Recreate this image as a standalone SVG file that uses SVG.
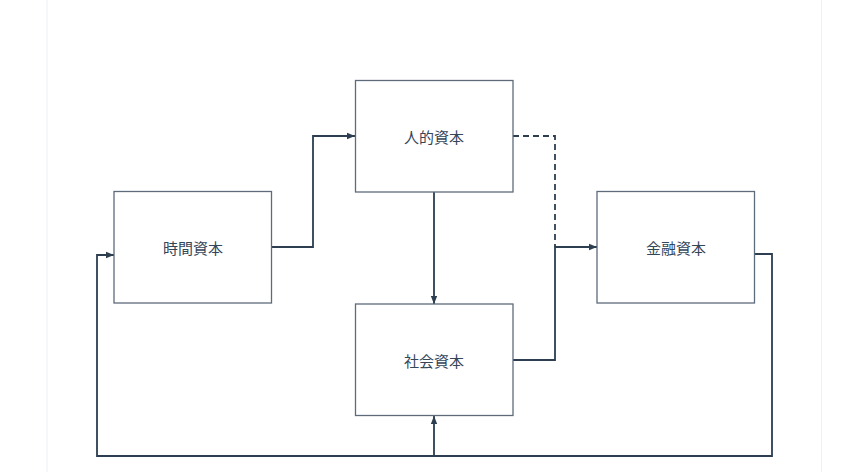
<svg xmlns="http://www.w3.org/2000/svg" width="841" height="472" viewBox="0 0 841 472">
<defs>
<style>
.box{fill:#ffffff;stroke:#5e6b7b;stroke-width:1.3}
.lbl{font-family:"Noto Sans CJK JP","Noto Sans CJK SC",sans-serif;font-size:15px;fill:#34465a;text-anchor:middle;dominant-baseline:central}
.c{fill:none;stroke:#2c3e50;stroke-width:1.8}
.d{stroke-dasharray:6 4}
</style>
<marker id="ah" viewBox="0 0 10 10" refX="10" refY="5" markerWidth="8" markerHeight="8" markerUnits="userSpaceOnUse" orient="auto">
<path d="M0,1 L10,5 L0,9 z" fill="#2c3e50"/>
</marker>
</defs>
<rect x="0" y="0" width="841" height="472" fill="#ffffff"/>
<line x1="47" y1="0" x2="47" y2="472" stroke="#eef0f3" stroke-width="1"/>
<line x1="821.5" y1="0" x2="821.5" y2="472" stroke="#eef0f3" stroke-width="1"/>
<g id="connectors">
<path class="c" d="M272,247 H313 V136 H355" marker-end="url(#ah)"/>
<path class="c" d="M434,192 V304" marker-end="url(#ah)"/>
<path class="c d" d="M513,136 H555 V247"/>
<path class="c" d="M513,360 H555 V247 H597" marker-end="url(#ah)"/>
<path class="c" d="M755,254 H772 V456 H97 V255 H114" marker-end="url(#ah)"/>
<path class="c" d="M434,456 V416" marker-end="url(#ah)"/>
</g>
<g id="time">
<rect class="box" x="114" y="191.5" width="157.5" height="111.5"/>
<text class="lbl" x="193" y="247">時間資本</text>
</g>
<g id="human">
<rect class="box" x="355.5" y="80.5" width="157.5" height="111.5"/>
<text class="lbl" x="434" y="136">人的資本</text>
</g>
<g id="social">
<rect class="box" x="355.5" y="304" width="157.5" height="111.5"/>
<text class="lbl" x="434" y="360">社会資本</text>
</g>
<g id="financial">
<rect class="box" x="597" y="191.5" width="157.5" height="111.5"/>
<text class="lbl" x="676" y="247">金融資本</text>
</g>
</svg>
